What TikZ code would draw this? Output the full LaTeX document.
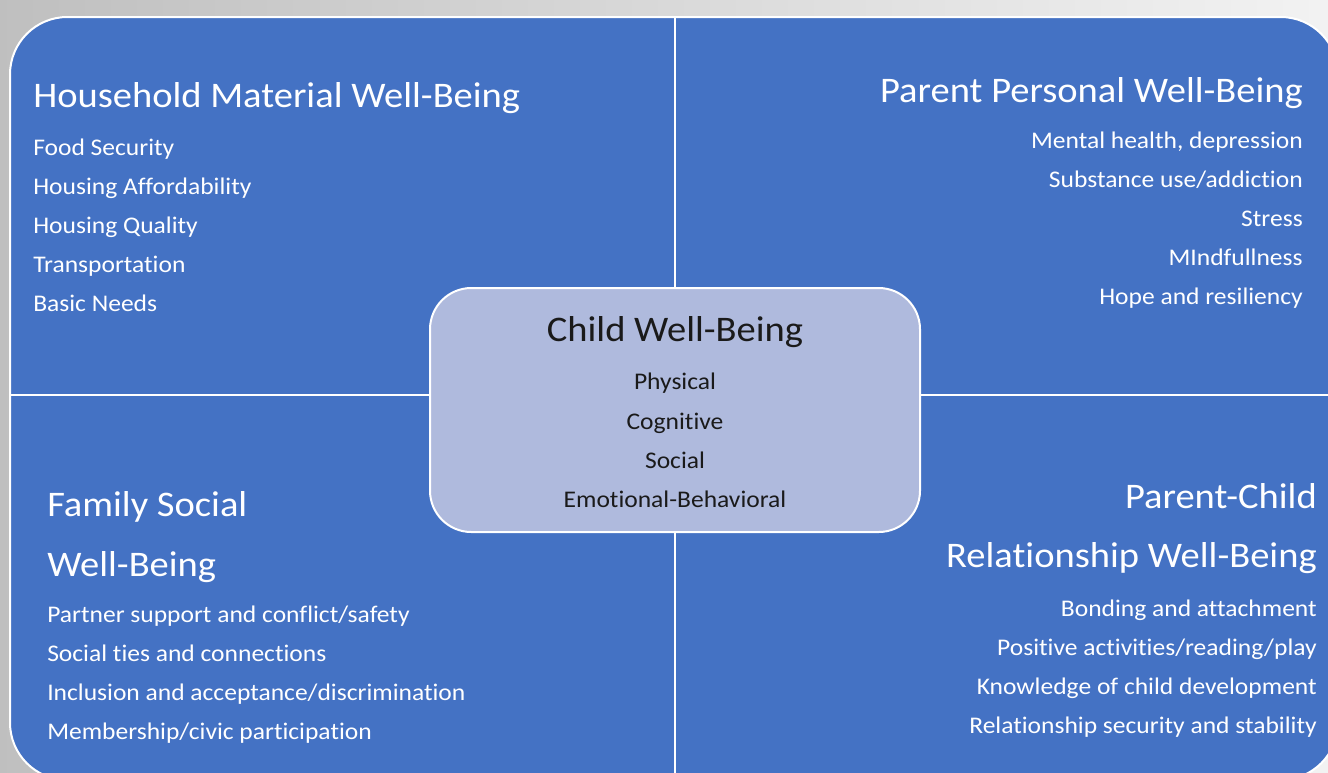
\documentclass[tikz,border=0pt]{standalone}
\usepackage{fontspec}
\setmainfont{Carlito}[FakeStretch=1.07,Ligatures=NoCommon]
\definecolor{panelblue}{HTML}{4472C4}
\definecolor{childfill}{HTML}{AFBADD}
\definecolor{childtext}{HTML}{1A1A1A}

\begin{document}
\begin{tikzpicture}[x=0.75pt,y=-0.75pt]
    \tikzset{head/.style={text=white,inner sep=0pt,font=\fontsize{27}{31}\selectfont}}
    \tikzset{item/.style={text=white,inner sep=0pt,font=\fontsize{17.9}{21}\selectfont}}
    \tikzset{divider/.style={draw=white,line width=1.8pt}}
    \tikzset{childbox/.style={draw=white,line width=1.5pt,fill=childfill,rounded corners=31pt,minimum width=367.5pt,minimum height=183pt}}

    \useasboundingbox (0,0) rectangle (1328,772);
    \clip (0,0) rectangle (1328,772);
    \shade[left color=gray!50,right color=gray!10] (0,0) rectangle (1328,772);
    \draw[white,line width=1.5pt,fill=panelblue,rounded corners=43pt] (10,17) rectangle (1338,780);
    \path[divider] (675,17) -- (675,780);
    \path[divider] (10,395) -- (1338,395);

    % household material
    \node[head,anchor=base west] (hmhead) at (33,107) {Household Material Well-Being};
    \node[item,anchor=base west] (hm1) at (33,155) {Food Security};
    \node[item,anchor=base west] (hm2) at (33,194) {Housing Affordability};
    \node[item,anchor=base west] (hm3) at (33,233) {Housing Quality};
    \node[item,anchor=base west] (hm4) at (33,272) {Transportation};
    \node[item,anchor=base west] (hm5) at (33,311) {Basic Needs};

    % parent personal
    \node[head,anchor=base east] (pphead) at (1303,102) {Parent Personal Well-Being};
    \node[item,anchor=base east] (pp1) at (1303,148) {Mental health, depression};
    \node[item,anchor=base east] (pp2) at (1303,187) {Substance use/addiction};
    \node[item,anchor=base east] (pp3) at (1303,226) {Stress};
    \node[item,anchor=base east] (pp4) at (1303,265) {MIndfullness};
    \node[item,anchor=base east] (pp5) at (1303,304) {Hope and resiliency};

    % family social
    \node[head,anchor=base west] (fshead) at (47,516) {Family Social};
    \node[head,anchor=base west] (fshead2) at (47,576) {Well-Being};
    \node[item,anchor=base west] (fs1) at (47,622) {Partner support and conflict/safety};
    \node[item,anchor=base west] (fs2) at (47,661) {Social ties and connections};
    \node[item,anchor=base west] (fs3) at (47,700) {Inclusion and acceptance/discrimination};
    \node[item,anchor=base west] (fs4) at (47,739) {Membership/civic participation};

    % parent-child
    \node[head,anchor=base east] (pchead) at (1317,508) {Parent-Child};
    \node[head,anchor=base east] (pchead2) at (1317,567) {Relationship Well-Being};
    \node[item,anchor=base east] (pc1) at (1317,616) {Bonding and attachment};
    \node[item,anchor=base east] (pc2) at (1317,655) {Positive activities/reading/play};
    \node[item,anchor=base east] (pc3) at (1317,694) {Knowledge of child development};
    \node[item,anchor=base east] (pc4) at (1317,733) {Relationship security and stability};

    % child in the middle
    \node[childbox] (child) at (675,410) {};
    \node[head,text=childtext,anchor=base] (cwhead) at (675,341) {Child Well-Being};
    \node[item,text=childtext,anchor=base] (cw1) at (675,389) {Physical};
    \node[item,text=childtext,anchor=base] (cw2) at (675,429) {Cognitive};
    \node[item,text=childtext,anchor=base] (cw3) at (675,468) {Social};
    \node[item,text=childtext,anchor=base] (cw4) at (675,507) {Emotional-Behavioral};
\end{tikzpicture}
\end{document}
